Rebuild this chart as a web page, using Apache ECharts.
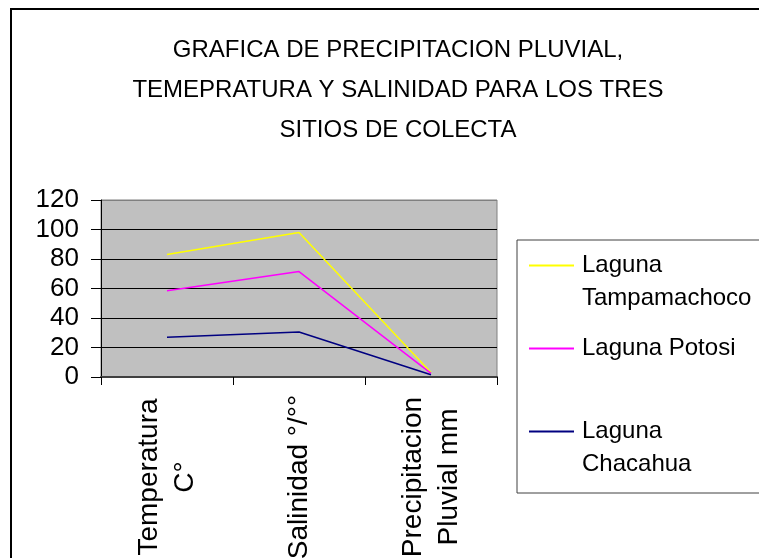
<!DOCTYPE html>
<html>
<head>
<meta charset="utf-8">
<script src="https://cdn.jsdelivr.net/npm/echarts@6/dist/echarts.min.js"></script>
<style>
  html, body { margin: 0; padding: 0; overflow: hidden; background: #fff; }
  #frame { position: absolute; left: 10px; top: 8px; width: 800px; height: 600px; border: 2px solid #000; }
  #main { position: absolute; left: 0; top: 0; width: 759px; height: 558px; }
</style>
</head>
<body>
<div id="frame"></div>
<div id="main"></div>
<script>
// categorias y valores
var CATEGORIAS = ['Temperatura\nC°', 'Salinidad °/°°', 'Precipitacion\nPluvial mm'];
var TAMPAMACHOCO = [83, 98, 3];
var POTOSI = [58.5, 71.5, 2.5];
var CHACAHUA = [27, 30.5, 1.5];
var Y_TICKS = [0, 20, 40, 60, 80, 100, 120];
var LAGUNAS = ['Laguna\nTampamachoco', 'Laguna Potosi', 'Laguna\nChacahua'];

var FONT = 'Liberation Sans, Arial, sans-serif';
var L = 33; // alto de linea en la leyenda

var chart = echarts.init(document.getElementById('main'));
chart.setOption({
    animation: false,
    title: {
        text: 'GRAFICA DE PRECIPITACION PLUVIAL,\nTEMEPRATURA Y SALINIDAD PARA LOS TRES\nSITIOS DE COLECTA',
        left: 393,
        top: 25,
        textAlign: 'center',
        textStyle: {
            fontFamily: FONT,
            fontSize: 24,
            fontWeight: 'normal',
            color: '#000',
            lineHeight: 40
        }
    },
    legend: {
        orient: 'vertical',
        left: 517,
        top: 240,
        padding: [-24, 30, 12, 12],
        borderColor: '#404040',
        borderWidth: 1,
        icon: 'rect',
        itemWidth: 45,
        itemHeight: 2,
        itemGap: 17,
        // linea en blanco delante: la muestra queda junto a la primera linea
        formatter: function (name) {
            return name.indexOf('\n') >= 0 ? ' \n' + name : name;
        },
        textStyle: {
            fontFamily: FONT,
            fontSize: 24,
            color: '#000',
            lineHeight: L,
            padding: [0, 0, 0, 3]
        },
        data: LAGUNAS
    },
    grid: {
        left: 101,
        top: 200,
        right: 262,
        bottom: 181,
        outerBoundsMode: 'none',
        show: true,
        backgroundColor: '#c0c0c0',
        borderColor: '#808080',
        borderWidth: 1
    },
    xAxis: {
        type: 'category',
        data: CATEGORIAS,
        boundaryGap: true,
        axisLine: { lineStyle: { color: '#404040', width: 2 } },
        axisTick: { show: true, length: 8, lineStyle: { color: '#000' } },
        axisLabel: {
            rotate: 90,
            interval: 0,
            align: 'center',
            verticalAlign: 'middle',
            margin: 100,
            fontFamily: FONT,
            fontSize: 28,
            lineHeight: 36,
            color: '#000'
        }
    },
    yAxis: {
        type: 'value',
        min: Y_TICKS[0],
        max: Y_TICKS[Y_TICKS.length - 1],
        interval: 20,
        axisLine: { show: true, lineStyle: { color: '#000' } },
        axisTick: { show: true, length: 10, lineStyle: { color: '#000' } },
        axisLabel: {
            margin: 22,
            fontFamily: FONT,
            fontSize: 26,
            color: '#000'
        },
        splitLine: {
            show: true,
            lineStyle: { color: ['#404040', '#000', '#000', '#000', '#000', '#000', '#808080'], width: 1 }
        }
    },
    series: [
        {
            name: LAGUNAS[0],
            type: 'line',
            data: TAMPAMACHOCO,
            showSymbol: false,
            color: '#ffff00',
            lineStyle: { width: 1.5, color: '#ffff00' }
        },
        {
            name: LAGUNAS[1],
            type: 'line',
            data: POTOSI,
            showSymbol: false,
            color: '#ff00ff',
            lineStyle: { width: 1.5, color: '#ff00ff' }
        },
        {
            name: LAGUNAS[2],
            type: 'line',
            data: CHACAHUA,
            showSymbol: false,
            color: '#000080',
            lineStyle: { width: 1.5, color: '#000080' }
        }
    ]
});
</script>
</body>
</html>
